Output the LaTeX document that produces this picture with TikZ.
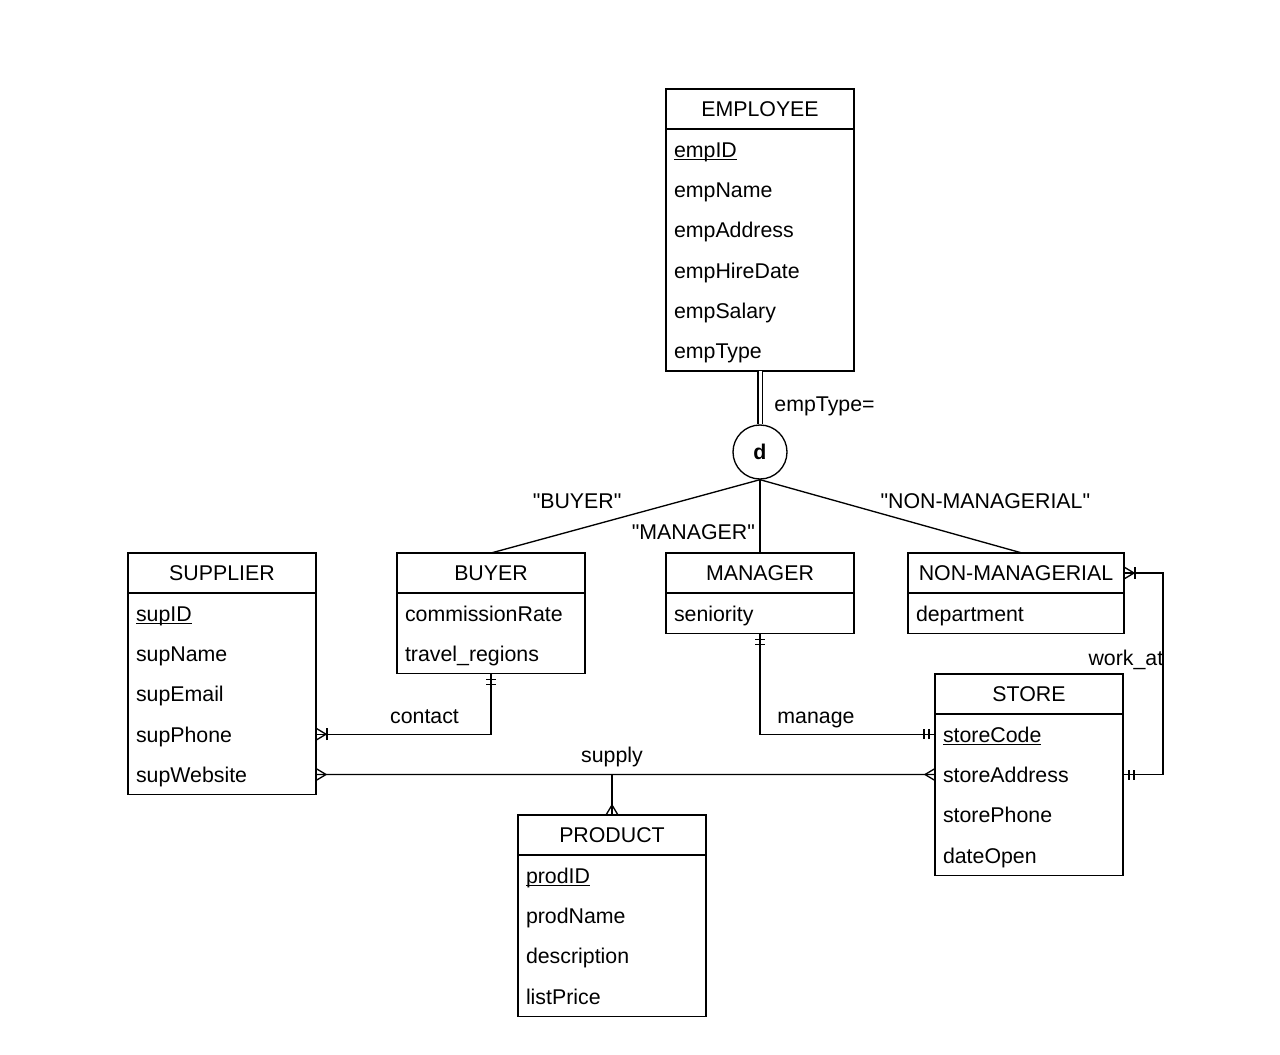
\documentclass[tikz,border=0pt]{standalone}
\usepackage{fontspec}
\setmainfont{Liberation Sans}
\usetikzlibrary{positioning, calc, decorations.markings}

\newcommand{\pk}[1]{\underline{\smash{#1}}}

\begin{document}
\begin{tikzpicture}[
        x=0.75pt, y=-0.75pt,
        font=\fontsize{16pt}{30.25pt}\selectfont,
        line width=1pt,
        entity/.style={rectangle, draw, outer sep=0pt, inner sep=0pt, minimum width=141pt, minimum height=30pt},
        attrs/.style={rectangle, draw, outer sep=0pt, inner xsep=6pt, inner ysep=0pt, align=left, text width=129pt, execute at begin node=\strut, execute at end node=\strut},
        disjoint/.style={circle, draw, inner sep=0pt, minimum size=40.5pt, font=\fontsize{16pt}{20pt}\selectfont\bfseries},
        mandatory start/.style={postaction={decorate, decoration={markings,
            mark=at position 4.5pt with {\draw (0pt,-3.75pt) -- (0pt,3.75pt);},
            mark=at position 8.25pt with {\draw (0pt,-3.75pt) -- (0pt,3.75pt);}}}},
        mandatory end/.style={postaction={decorate, decoration={markings,
            mark=at position -8.25pt with {\draw (0pt,-3.75pt) -- (0pt,3.75pt);},
            mark=at position -4.5pt with {\draw (0pt,-3.75pt) -- (0pt,3.75pt);}}}},
        many start/.style={postaction={decorate, decoration={markings,
            mark=at position 0 with {\draw (0pt,4.5pt) -- (7.5pt,0pt) -- (0pt,-4.5pt);}}}},
        many end/.style={postaction={decorate, decoration={markings,
            mark=at position 1 with {\draw (0pt,4.5pt) -- (-7.5pt,0pt) -- (0pt,-4.5pt);}}}},
        onemany start/.style={many start, postaction={decorate, decoration={markings,
            mark=at position 8.25pt with {\draw (0pt,-4.5pt) -- (0pt,4.5pt);}}}},
        onemany end/.style={many end, postaction={decorate, decoration={markings,
            mark=at position -8.25pt with {\draw (0pt,-4.5pt) -- (0pt,4.5pt);}}}}
    ]
        \useasboundingbox (0,0) rectangle (1280,1054);

        % entities
        \node[entity] (emp) at (760,109) {EMPLOYEE};
        \node[attrs, below=0pt of emp] (empattr) {\pk{empID}\\empName\\empAddress\\empHireDate\\empSalary\\empType};
        \node[disjoint] (d) at (760,452) {d};

        \node[entity] (sup) at (222,573) {SUPPLIER};
        \node[attrs, below=0pt of sup] (supattr) {\pk{supID}\\supName\\supEmail\\supPhone\\supWebsite};
        \node[entity] (buy) at (491,573) {BUYER};
        \node[attrs, below=0pt of buy] (buyattr) {commissionRate\\travel\_regions};
        \node[entity] (mgr) at (760,573) {MANAGER};
        \node[attrs, below=0pt of mgr] (mgrattr) {seniority};
        \node[entity, minimum width=162pt] (nonmgr) at (1016,573) {NON-MANAGERIAL};
        \node[attrs, text width=150pt, below=0pt of nonmgr] (nonmgrattr) {department};
        \node[entity] (store) at (1029,694) {STORE};
        \node[attrs, below=0pt of store] (storeattr) {\pk{storeCode}\\storeAddress\\storePhone\\dateOpen};
        \node[entity] (prod) at (612,835) {PRODUCT};
        \node[attrs, below=0pt of prod] (prodattr) {\pk{prodID}\\prodName\\description\\listPrice};

        % attachment points
        \coordinate (supphone) at ($(supattr.north east)!0.7!(supattr.south east)$);
        \coordinate (supweb) at ($(supattr.north east)!0.9!(supattr.south east)$);
        \coordinate (stcode) at ($(storeattr.north west)!0.125!(storeattr.south west)$);
        \coordinate (staddr) at ($(storeattr.north west)!0.375!(storeattr.south west)$);
        \coordinate (staddrr) at ($(storeattr.north east)!0.375!(storeattr.south east)$);
        \coordinate (sj) at (prod.north |- supweb);
        \coordinate (nmtop) at ([xshift=4.5pt]nonmgr.north);

        % specialization
        \draw[double, double distance=2.25pt] (empattr) -- (d) node[pos=0.67, right=7pt] (ltype) {empType=};
        \draw (d.south) -- (buy.north) node[pos=0.68, above=11.5pt] (lbuyer) {\textquotedbl BUYER\textquotedbl};
        \draw (d) -- (mgr) node[pos=0.72, left] (lmgr) {\textquotedbl MANAGER\textquotedbl};
        \draw (d.south) -- (nmtop) node[pos=0.86, above=22pt] (lnonmgr) {\textquotedbl NON-MANAGERIAL\textquotedbl};

        % relationships
        \draw[onemany start, mandatory end] (supphone) -| node[pos=0.31, above=4pt] (lcontact) {contact} (buyattr.south);
        \draw[mandatory start, mandatory end] (mgrattr.south) |- node[pos=0.66, above=1pt] (lmanage) {manage} (stcode);
        \draw[many start, many end] (supweb) -- (staddr);
        \draw[many end] (sj) -- (prod.north);
        \node[above=2pt] (lsupply) at (sj) {supply};
        \draw[mandatory start, onemany end] (staddrr) -- ++(40,0) |- node[pos=0.285, left=-4pt] (lwork) {work\_at} (nonmgr.east);
    \end{tikzpicture}
\end{document}
